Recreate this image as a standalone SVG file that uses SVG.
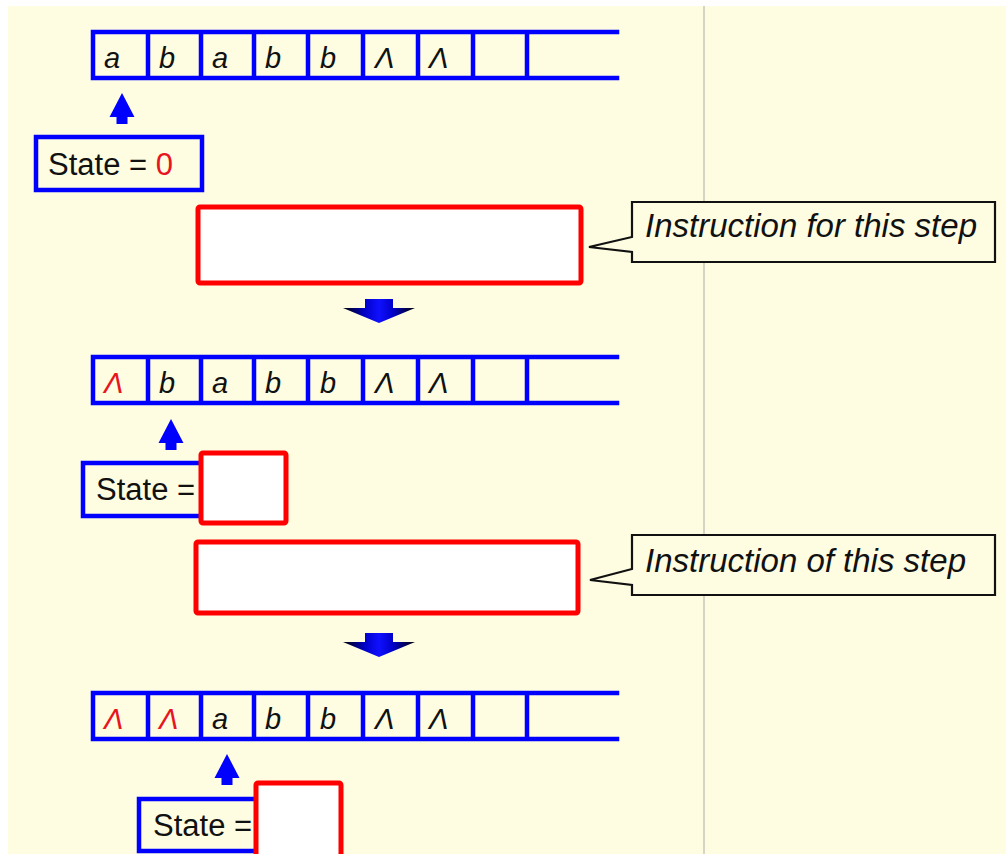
<svg xmlns="http://www.w3.org/2000/svg" width="1006" height="854" viewBox="0 0 1006 854">
<style>
.tape{fill:none;stroke:#0000ff;stroke-width:4.5;stroke-linecap:square}
.sym{font-family:"Liberation Sans",Arial,sans-serif;font-style:italic;font-size:29px;fill:#111}
.red{fill:#e8141e}
.sbox{fill:#fefde2;stroke:#0000ff;stroke-width:4.5}
.stxt{font-family:"Liberation Sans",Arial,sans-serif;font-size:31px;fill:#111}
.rbox{fill:#fff;stroke:#ff0000;stroke-width:5}
.call{fill:#fefde2;stroke:#111;stroke-width:2.2;stroke-linejoin:miter}
.ctxt{font-family:"Liberation Sans",Arial,sans-serif;font-style:italic;font-size:33px;fill:#111}
.up{fill:#0000ff}
</style>
<defs>
<linearGradient id="dg" x1="0" y1="0" x2="1" y2="0">
<stop offset="0" stop-color="#000"/>
<stop offset="0.3" stop-color="#0000c8"/>
<stop offset="0.5" stop-color="#1010ff"/>
<stop offset="0.7" stop-color="#0000c8"/>
<stop offset="1" stop-color="#000"/>
</linearGradient>
<path id="tapeShape" d="M617,0 H93 V46 H617 M148,0 V46 M201,0 V46 M254,0 V46 M308,0 V46 M363,0 V46 M418,0 V46 M473,0 V46 M527,0 V46"/>
<path id="upArrow" d="M0,0 L12.5,24 L5.5,24 L5.5,31 L-5.5,31 L-5.5,24 L-12.5,24 Z"/>
<path id="downArrow" d="M-14,0 H14 V9 H36 L0,24 L-36,9 H-14 Z"/>
</defs>
<rect x="0" y="0" width="1006" height="854" fill="#ffffff"/>
<rect x="8" y="6" width="998" height="848" fill="#fefde2"/>
<line x1="704" y1="6" x2="704" y2="854" stroke="#d6d4c2" stroke-width="2"/>

<g id="tape1" transform="translate(0,32)">
<use href="#tapeShape" class="tape"/>
<g class="sym">
<text x="104" y="36">a</text><text x="159" y="36">b</text><text x="212" y="36">a</text><text x="265" y="36">b</text><text x="320" y="36">b</text><text x="375" y="36">Λ</text><text x="429" y="36">Λ</text>
</g>
</g>

<g id="state1">
<rect x="36" y="137" width="166" height="53" class="sbox"/>
<text x="48" y="175" class="stxt">State = <tspan class="red">0</tspan></text>
</g>

<g id="instr1">
<rect x="198" y="207" width="383" height="76" rx="2" class="rbox"/>
</g>
<g id="callout1">
<path d="M632,202 H995 V262 H632 V252 L589,247 L632,237 Z" class="call"/>
<text x="645" y="237" class="ctxt">Instruction for this step</text>
</g>

<g id="tape2" transform="translate(0,357)">
<use href="#tapeShape" class="tape"/>
<g class="sym">
<text x="104" y="36" class="red">Λ</text><text x="159" y="36">b</text><text x="212" y="36">a</text><text x="265" y="36">b</text><text x="320" y="36">b</text><text x="375" y="36">Λ</text><text x="429" y="36">Λ</text>
</g>
</g>

<g id="state2">
<rect x="83" y="463" width="130" height="53" class="sbox"/>
<text x="96" y="500" class="stxt">State =</text>
<rect x="201" y="453" width="85" height="70" rx="2" class="rbox"/>
</g>

<g id="instr2">
<rect x="196" y="542" width="382" height="71" rx="2" class="rbox"/>
</g>
<g id="callout2">
<path d="M632,535 H995 V595 H632 V585 L590,580 L632,569 Z" class="call"/>
<text x="645" y="572" class="ctxt">Instruction of this step</text>
</g>

<g id="tape3" transform="translate(0,693)">
<use href="#tapeShape" class="tape"/>
<g class="sym">
<text x="104" y="36" class="red">Λ</text><text x="159" y="36" class="red">Λ</text><text x="212" y="36">a</text><text x="265" y="36">b</text><text x="320" y="36">b</text><text x="375" y="36">Λ</text><text x="429" y="36">Λ</text>
</g>
</g>

<g id="state3">
<rect x="139" y="799" width="126" height="52" class="sbox"/>
<text x="153" y="836" class="stxt">State =</text>
<rect x="256" y="783" width="85" height="80" rx="2" class="rbox"/>
</g>

<g id="connectors">
<use href="#upArrow" class="up" transform="translate(122,93)"/>
<use href="#upArrow" class="up" transform="translate(171,419)"/>
<use href="#upArrow" class="up" transform="translate(227,754)"/>
<use href="#downArrow" fill="url(#dg)" transform="translate(379,299)"/>
<use href="#downArrow" fill="url(#dg)" transform="translate(379,633)"/>
</g>
</svg>
